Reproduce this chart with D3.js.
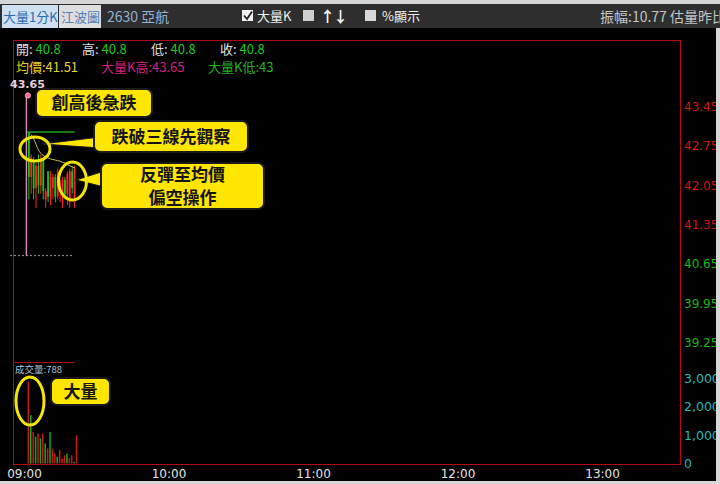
<!DOCTYPE html>
<html><head><meta charset="utf-8">
<script src="https://cdn.jsdelivr.net/npm/d3@7"></script>
<style>
html,body{margin:0;padding:0;background:#d6d6d6;overflow:hidden;}
svg{display:block;}
</style></head><body>
<svg id="c" width="720" height="484"></svg>
<script>
// ---------- data ----------
const times   = ["09:01","09:02","09:03","09:04","09:05","09:06","09:07","09:08","09:09","09:10","09:11","09:12","09:13","09:14","09:15","09:16","09:17","09:18","09:19","09:20","09:21"];
const opens   = [40.8, 43.0, 42.2, 42.5, 42.0, 42.4, 42.05, 42.5, 41.8, 42.3, 41.85, 42.0, 42.2, 41.85, 42.0, 41.8, 42.15, 41.9, 41.75, 42.3, 41.75];
const highs   = [43.65,43.0, 42.6, 42.55,42.45,42.6, 42.6, 42.5, 42.0, 42.3, 42.3, 42.25,42.25,42.35,42.15,42.2, 42.2, 42.3, 42.35,42.4, 42.4];
const lows    = [40.8, 41.8, 41.9, 41.8, 41.65,41.9, 41.9, 41.8, 41.65,41.75,41.7, 41.8, 41.75,41.8, 41.75,41.65,41.8, 41.7, 41.65,41.9, 41.65];
const closes  = [43.0, 42.2, 42.55,42.0, 42.4, 42.05,42.5, 41.95,41.95,41.85,42.2, 42.2, 41.85,42.3, 42.1, 42.15,41.9, 42.25,42.3, 42.0, 42.35];
const volumes = [2870, 1700, 1110, 940, 1050, 880, 1050, 700, 530, 1110, 530, 350, 240, 470, 180, 290, 350, 180, 290, 60, 990];
const avgPrices = [null, null, 42.95, 42.88, 42.78, 42.68, 42.62, 42.58, 42.56, 42.54, 42.52, 42.51, 42.5, 42.49, 42.48, 42.46, 42.45, 42.42, 42.4, 42.38, 42.36];
const priceTicks  = [43.45, 42.75, 42.05, 41.35, 40.65, 39.95, 39.25];
const volumeTicks = [0, 1000, 2000, 3000];
const timeTicks   = ["09:00","10:00","11:00","12:00","13:00"];
const refPrice = 41.0;
const bigKHigh = 43.65, bigKLow = 43.0, firstTrade = 40.8;
const infoRow1 = [["開: ","40.8"],["高: ","40.8"],["低: ","40.8"],["收: ","40.8"]];
const infoRow2 = [["均價:41.51","#e6d21e"],["大量K高:43.65","#d4207e"],["大量K低:43","#22b422"]];
const notes = [
  {lines:["創高後急跌"], box:[36,89,152,117]},
  {lines:["跌破三線先觀察"], box:[94,121,248,152], tail:[[100,137],[42,144],[100,148]]},
  {lines:["反彈至均價","偏空操作"], box:[101,163,264,209], tail:[[104,171],[76,180],[104,187]]},
  {lines:["大量"], box:[51,378,110,405]}
];
const rings = [[35,149,15,12],[72.5,181,14,19],[30,401,14,24]];

// ---------- layout ----------
const svg = d3.select("#c");
const parse = d3.timeParse("%H:%M");
const x = d3.scaleTime().domain([parse("09:00"), parse("13:30")]).range([24, 674.3]);
const y = d3.scaleLinear().domain([39.25, 43.45]).range([342.7, 106.7]);
const yv = d3.scaleLinear().domain([0, 3000]).range([463.5, 378]);
const frame = {l:13, t:40, r:680, b:464};
const cjk = "'Noto Sans CJK TC','Noto Sans',sans-serif";
const red = "#ff2424", green = "#14c814";

// background
svg.append("rect").attr("x",0).attr("y",0).attr("width",720).attr("height",484).attr("fill","#d6d6d6");
svg.append("rect").attr("x",0).attr("y",4).attr("width",720).attr("height",24).attr("fill","#2e2e2e");
svg.append("rect").attr("x",0).attr("y",28).attr("width",716).attr("height",453).attr("fill","#000");

// toolbar
const tb = svg.append("g").style("font-family", cjk);
tb.append("rect").attr("x",2).attr("y",5).attr("width",56).attr("height",23).attr("fill","#cfe0f2");
tb.append("text").attr("x",3).attr("y",22).attr("font-size",13).attr("fill","#2c6cae").text("大量1分K");
tb.append("rect").attr("x",59).attr("y",5).attr("width",42).attr("height",23).attr("fill","#dedede");
tb.append("text").attr("x",61).attr("y",22).attr("font-size",13).attr("fill","#4f7fb5").text("江波圖");
tb.append("text").attr("x",107).attr("y",22).attr("font-size",14).attr("fill","#90b2d4").text("2630 亞航");
tb.append("rect").attr("x",242).attr("y",10).attr("width",11).attr("height",11).attr("fill","#f2f2f2");
tb.append("path").attr("d","M244,15.5 L247,19 L252,11.5").attr("fill","none").attr("stroke","#222").attr("stroke-width",1.8);
tb.append("text").attr("x",257).attr("y",21).attr("font-size",13).attr("fill","#f0f0f0").text("大量K");
tb.append("rect").attr("x",303).attr("y",10).attr("width",11).attr("height",11).attr("fill","#cfcfcf");
tb.append("text").attr("x",320).attr("y",22).attr("font-size",15).attr("font-weight","bold").attr("fill","#f4f4f4").attr("letter-spacing",-2).text("↑↓");
tb.append("rect").attr("x",365).attr("y",10).attr("width",11).attr("height",11).attr("fill","#d8d8d8");
tb.append("text").attr("x",382).attr("y",21).attr("font-size",13).attr("fill","#f0f0f0").text("%顯示");
tb.append("text").attr("x",600).attr("y",22).attr("font-size",14).attr("fill","#c4c4c4").text("振幅:10.77 估量昨比");

// frame
svg.append("rect").attr("x",frame.l+0.5).attr("y",frame.t+0.5).attr("width",frame.r-frame.l).attr("height",frame.b-frame.t)
  .attr("fill","none").attr("stroke","#b40c0c").attr("stroke-width",1);
svg.append("line").attr("x1",frame.l).attr("x2",x(parse(times[times.length-1]))).attr("y1",362.5).attr("y2",362.5)
  .attr("stroke","#b40c0c");

// info text
const info = svg.append("g").style("font-family", cjk).attr("font-size",13);
const row1x = [16, 82, 151, 220];
infoRow1.forEach((d,i)=>{
  const t = info.append("text").attr("x",row1x[i]).attr("y",54);
  t.append("tspan").attr("fill","#e2e2e2").text(d[0]);
  t.append("tspan").attr("fill","#1ec81e").text(d[1]);
});
const row2x = [16, 101, 208];
infoRow2.forEach((d,i)=>{
  info.append("text").attr("x",row2x[i]).attr("y",72).attr("fill",d[1]).text(d[0]);
});

// price axis
const ay = svg.append("g").attr("transform",`translate(${frame.r},0)`)
  .call(d3.axisRight(y).tickValues(priceTicks).tickSize(0).tickPadding(4).tickFormat(d3.format(".2f")));
ay.select(".domain").remove();
ay.selectAll("text").attr("font-family","'DejaVu Sans',sans-serif").attr("font-size",12)
  .attr("fill", d => d > refPrice ? "#d41414" : "#16b816");

// volume axis
const av = svg.append("g").attr("transform",`translate(${frame.r},0)`)
  .call(d3.axisRight(yv).tickValues(volumeTicks).tickSize(0).tickPadding(4).tickFormat(d3.format(",")));
av.select(".domain").remove();
av.selectAll("text").attr("font-family","'DejaVu Sans',sans-serif").attr("font-size",12.5).attr("fill","#1fb8b8");

// time axis
const ax = svg.append("g").attr("transform",`translate(0,${frame.b})`)
  .call(d3.axisBottom(x).tickValues(timeTicks.map(parse)).tickSize(0).tickPadding(5).tickFormat(d3.timeFormat("%H:%M")));
ax.select(".domain").remove();
ax.selectAll("text").attr("font-family","'DejaVu Sans',sans-serif").attr("font-size",12).attr("fill","#e4e4e4");

// reference dotted line (first trade)
svg.append("line").attr("x1",10).attr("x2",73).attr("y1",y(firstTrade)).attr("y2",y(firstTrade))
  .attr("stroke","#9a9a9a").attr("stroke-dasharray","2,2");

// big-volume K low line
svg.append("line").attr("x1",x(parse(times[0]))+1).attr("x2",x(parse(times[times.length-1]))).attr("y1",y(bigKLow)).attr("y2",y(bigKLow))
  .attr("stroke","#1ea01e").attr("stroke-width",1.5);

// candles
const bars = times.map((t,i)=>({t:parse(t), o:opens[i], h:highs[i], l:lows[i], c:closes[i], v:volumes[i], a:avgPrices[i], i}));
const col = d => d.i===0 ? "#d98bbd" : (d.c >= d.o ? red : green);
const cg = svg.append("g");
cg.selectAll("line.w").data(bars).join("line").attr("class","w")
  .attr("x1",d=>x(d.t)).attr("x2",d=>x(d.t)).attr("y1",d=>y(d.h)).attr("y2",d=>y(d.l))
  .attr("stroke",col).attr("stroke-width",d=>d.i===0?1.4:1);
cg.selectAll("rect.b").data(bars.slice(1)).join("rect").attr("class","b")
  .attr("x",d=>x(d.t)-0.9).attr("width",1.8)
  .attr("y",d=>y(Math.max(d.o,d.c))).attr("height",d=>Math.max(1,Math.abs(y(d.o)-y(d.c))))
  .attr("fill",col);

// high marker
svg.append("circle").attr("cx",x(parse(times[0]))+1.5).attr("cy",y(bigKHigh)).attr("r",2.6)
  .attr("fill","#f06a9a").attr("stroke","#ffb0c8").attr("stroke-width",0.8);
svg.append("text").attr("x",10).attr("y",88).attr("font-family","'DejaVu Sans',sans-serif").attr("font-weight","bold")
  .attr("font-size",11).attr("fill","#e8cfd8").text(d3.format(".2f")(bigKHigh));

// average price line
svg.append("path").datum(bars.filter(d=>d.a!=null))
  .attr("d", d3.line().x(d=>x(d.t)).y(d=>y(d.a)).curve(d3.curveMonotoneX))
  .attr("fill","none").attr("stroke","#c9c064").attr("stroke-width",1);

// volume bars
svg.append("g").selectAll("rect").data(bars).join("rect")
  .attr("x",d=>x(d.t)+1.2).attr("width",1.5)
  .attr("y",d=>yv(d.v)).attr("height",d=>yv(0)-yv(d.v))
  .attr("fill",d=>d.c>=d.o ? "#d01616" : "#16ac16");
svg.append("text").attr("x",15).attr("y",373).attr("font-family",cjk).attr("font-size",9.5).attr("fill","#a8c4d8").text("成交量:788");

// annotations
const ng = svg.append("g");
notes.forEach(n=>{
  if(n.tail){
    ng.append("polygon").attr("points",n.tail.map(p=>p.join(",")).join(" "))
      .attr("fill","#ffe600").attr("stroke","#1a1a1a").attr("stroke-width",1.2);
  }
  const [x0,y0,x1,y1] = n.box;
  ng.append("rect").attr("x",x0).attr("y",y0).attr("width",x1-x0).attr("height",y1-y0).attr("rx",6)
    .attr("fill","#ffe600").attr("stroke","#1a1a1a").attr("stroke-width",2);
  const cx=(x0+x1)/2, cy=(y0+y1)/2, lh=23;
  const t = ng.append("text").attr("text-anchor","middle").attr("font-family",cjk).attr("font-weight","bold")
    .attr("font-size",17).attr("fill","#151515");
  n.lines.forEach((l,k)=>{
    t.append("tspan").attr("x",cx).attr("y",cy+(k-(n.lines.length-1)/2)*lh).attr("dy","0.36em").text(l);
  });
});
rings.forEach(r=>{
  ng.append("ellipse").attr("cx",r[0]).attr("cy",r[1]).attr("rx",r[2]).attr("ry",r[3])
    .attr("fill","none").attr("stroke","#f4e600").attr("stroke-width",3);
});

// window edges (clip the right-hand labels like the reference)
svg.append("rect").attr("x",716).attr("y",28).attr("width",4).attr("height",456).attr("fill","#d6d6d6");
svg.append("rect").attr("x",0).attr("y",481).attr("width",720).attr("height",3).attr("fill","#d6d6d6");
</script>
</body></html>
